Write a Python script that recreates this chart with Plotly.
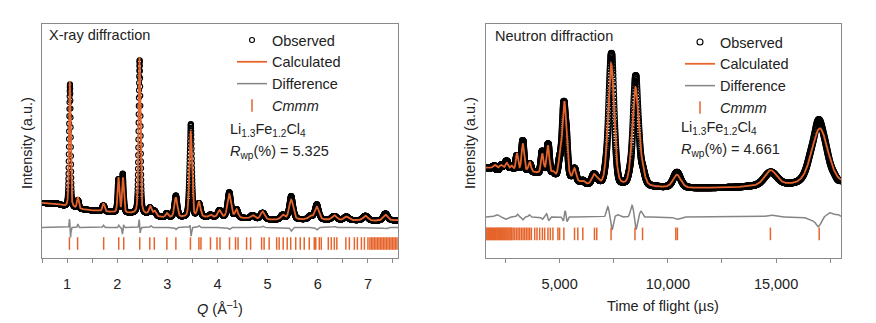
import numpy as np
import plotly.graph_objects as go

W, H = 876, 323
ORANGE = "#E6652C"
GRAY = "#858585"
FRAME = "#8a8a8a"
TXT = "#222222"
FONT = "Liberation Sans, Arial, Helvetica, sans-serif"
FS = 14.5

# ---------------- X-ray panel data ----------------
xr_bg_q = [0.5, 0.8, 0.95, 1.2, 1.4, 2.0, 2.6, 2.9, 3.0, 3.9, 4.5, 5.1, 5.7, 6.5, 7.2, 7.6]
xr_bg_y = [23.5, 23.2, 22.0, 21.0, 20.5, 19.3, 18.6, 17.3, 17.2, 17.4, 17.0, 16.3, 16.4, 16.2, 15.9, 16.1]

xr_peak_pos = [1.055, 1.215, 1.725, 2.025, 2.115, 2.445, 2.66, 2.745, 2.99, 3.17, 3.465, 3.63,
               3.86, 4.04, 4.235, 4.38, 4.70, 4.90, 5.30, 5.47, 5.85, 5.98, 6.33, 6.57, 6.95, 7.35]
xr_peak_amp = [54.0, 5.0, 3.5, 15.0, 15.0, 67.0, 3.5, 2.0, 1.8, 8.5, 37.0, 6.5,
               1.0, 3.0, 10.0, 3.5, 1.5, 3.3, 2.0, 8.5, 1.5, 5.5, 2.0, 1.5, 2.0, 2.5]
xr_peak_sig = [0.016, 0.018, 0.021, 0.018, 0.018, 0.019, 0.025, 0.025, 0.025, 0.03, 0.025, 0.03,
               0.026, 0.034, 0.036, 0.03, 0.038, 0.038, 0.038, 0.042, 0.038, 0.043, 0.043, 0.043, 0.048, 0.048]

xr_diff_base = 13.0
xr_diff_pos = [1.050, 1.068, 1.215, 1.725, 2.03, 2.105, 2.125, 2.44, 2.455, 2.67, 3.17, 3.455, 3.472,
               3.63, 4.235, 4.90, 5.47, 5.98, 6.33, 7.35]
xr_diff_amp = [4.0, -4.5, 1.5, 1.0, 1.0, -3.0, 1.5, 4.0, -3.0, 0.8, -0.8, 1.5, -4.0,
               0.8, -0.8, 0.6, -1.5, -1.0, 0.5, -0.5]
xr_diff_sig = [0.008, 0.008, 0.01, 0.012, 0.01, 0.01, 0.01, 0.009, 0.009, 0.015, 0.015, 0.01, 0.01,
               0.015, 0.02, 0.02, 0.02, 0.02, 0.02, 0.03]

xr_ticks = [1.047, 1.21, 1.73, 2.03, 2.13, 2.45, 2.65, 2.74, 2.99, 3.17, 3.46, 3.63, 3.67, 3.86,
            3.99, 4.05, 4.24, 4.36, 4.41, 4.58, 4.66, 4.88, 4.93, 5.03, 5.18, 5.23, 5.31, 5.39,
            5.46, 5.56, 5.65, 5.73, 5.83, 5.93, 5.96, 6.03, 6.07, 6.21, 6.27, 6.33, 6.38, 6.56,
            6.63, 6.73, 6.79, 6.87, 6.93, 7.0, 7.04, 7.07, 7.1, 7.13, 7.16, 7.19, 7.22, 7.25,
            7.28, 7.31, 7.34, 7.37, 7.4, 7.43, 7.46, 7.49, 7.52, 7.55, 7.58]
xr_tick_level = 6.2

# ---------------- Neutron panel data ----------------
nd_bg_t = [1600, 2500, 3500, 4500, 5500, 6300, 7000, 8000, 9500, 11000, 13000, 14000, 15500, 18000]
nd_bg_y = [38.5, 38.0, 37.0, 35.0, 33.0, 31.0, 30.5, 30.0, 30.0, 29.8, 30.0, 30.5, 31.0, 31.5]

nd_peak_pos = [2000, 2300, 2560, 2780, 3030, 3300, 3620, 4200, 4460, 4700, 4990, 5220, 5690, 6080,
               6580, 6750, 7380, 8500, 8800, 10420, 14750, 17020]
nd_peak_amp = [1.5, 1.5, 2.5, 1.5, 7.0, 11.5, 4.0, 8.5, 12.5, 1.5, 5.0, 33.0, 5.0, 1.0,
               4.0, 1.5, 52.5, 42.0, 6.0, 5.5, 6.5, 24.0]
nd_peak_sig = [70, 70, 60, 50, 48, 55, 55, 60, 65, 60, 60, 100, 70, 70,
               95, 85, 140, 145, 130, 180, 280, 380]

nd_diff_base = 17.5
nd_diff_pos = [2100, 2500, 3050, 3300, 3600, 4200, 4400, 4500, 5180, 5260, 5330, 7222, 7424, 7700,
               8344, 8528, 8758, 10420, 14750, 16600, 16950, 17500, 17850]
nd_diff_amp = [1.0, -1.0, 1.2, -1.2, 1.0, -1.0, 1.5, -1.5, -2.0, 3.5, -2.5, 4.5, -5.5, 1.0,
               5.0, -5.5, 2.5, -1.0, 0.8, -1.5, -4.0, 1.8, 1.0]
nd_diff_sig = [100, 80, 40, 40, 40, 40, 40, 40, 40, 40, 40, 60, 50, 100,
               70, 50, 60, 120, 200, 150, 120, 150, 100]

nd_ticks = [1610, 1650, 1690, 1725, 1760, 1800, 1840, 1875, 1910, 1950, 1990, 2030, 2070, 2110,
            2150, 2190, 2230, 2270, 2310, 2350, 2395, 2440, 2485, 2530, 2575, 2620, 2665, 2710,
            2755, 2790, 2852, 2930, 3008, 3082, 3160, 3238, 3312, 3390, 3468, 3542, 3620, 3698,
            3850, 3956, 4080, 4204, 4310, 4462, 4572, 4692, 4922, 5000, 5198, 5690, 5842, 6072,
            6610, 6716, 7378, 8482, 8832, 10368, 10442, 14738, 16992]
nd_tick_level = 10.3


def pv(x, c, s, eta=0.3):
    g = np.exp(-0.5 * ((x - c) / s) ** 2)
    gam = 1.1774 * s
    l = 1.0 / (1.0 + ((x - c) / gam) ** 2)
    return (1 - eta) * g + eta * l


def profile(x, bg_x, bg_y, pos, amp, sig):
    y = np.interp(x, bg_x, bg_y)
    for c, a, s in zip(pos, amp, sig):
        y = y + a * pv(x, c, s)
    return y


def diffcurve(x, base, pos, amp, sig):
    d = np.full_like(x, base)
    for c, a, s in zip(pos, amp, sig):
        d = d + a * np.exp(-0.5 * ((x - c) / s) ** 2)
    return d


q = np.arange(0.5, 7.6001, 0.002)
xr_calc = profile(q, xr_bg_q, xr_bg_y, xr_peak_pos, xr_peak_amp, xr_peak_sig)
xr_diff = diffcurve(q, xr_diff_base, xr_diff_pos, xr_diff_amp, xr_diff_sig)
xr_obs = xr_calc - (xr_diff - xr_diff_base)

t = np.geomspace(1600, 18000, 3000)
nd_calc = profile(t, nd_bg_t, nd_bg_y, nd_peak_pos, nd_peak_amp, nd_peak_sig)
nd_diff = diffcurve(t, nd_diff_base, nd_diff_pos, nd_diff_amp, nd_diff_sig)
nd_obs = nd_calc - (nd_diff - nd_diff_base)

fig = go.Figure()


def add_panel(x, obs, calc, diff, ticks, tick_level, xa, ya, legend, msize):
    fig.add_trace(go.Scatter(x=x, y=obs, mode="markers", name="Observed",
                             marker=dict(symbol="circle-open", size=msize, color="black",
                                         line=dict(width=1.1, color="black")),
                             xaxis=xa, yaxis=ya, legend=legend))
    fig.add_trace(go.Scatter(x=x, y=calc, mode="lines", name="Calculated",
                             line=dict(color=ORANGE, width=1.8),
                             xaxis=xa, yaxis=ya, legend=legend))
    fig.add_trace(go.Scatter(x=x, y=diff, mode="lines", name="Difference",
                             line=dict(color=GRAY, width=1.5),
                             xaxis=xa, yaxis=ya, legend=legend))
    fig.add_trace(go.Scatter(x=ticks, y=[tick_level] * len(ticks), mode="markers",
                             name="<i>Cmmm</i>",
                             marker=dict(symbol="line-ns", size=9, color=ORANGE,
                                         line=dict(width=1.5, color=ORANGE)),
                             xaxis=xa, yaxis=ya, legend=legend))


add_panel(q, xr_obs, xr_calc, xr_diff, xr_ticks, xr_tick_level, "x", "y", "legend", 5)
add_panel(t, nd_obs, nd_calc, nd_diff, nd_ticks, nd_tick_level, "x2", "y2", "legend2", 6)


def px(v):
    return v / W


def py(v):
    return 1 - v / H


ydom = [py(258), py(24)]
axis_common = dict(showline=True, mirror=True, linecolor=FRAME, linewidth=1, showgrid=False,
                   zeroline=False)
xaxis_common = dict(axis_common, ticks="outside", ticklen=4, tickwidth=1, tickcolor=FRAME,
                    ticklabelstandoff=9,
                    tickfont=dict(size=FS, color=TXT, family=FONT))
yaxis_common = dict(axis_common, showticklabels=False, ticks="", range=[0, 100])

fig.update_layout(
    width=W, height=H,
    margin=dict(l=0, r=0, t=0, b=0),
    paper_bgcolor="white", plot_bgcolor="white",
    font=dict(family=FONT, size=FS, color=TXT),
    xaxis=dict(xaxis_common, domain=[px(42), px(398)], range=[0.5, 7.6], dtick=1, tick0=0,
               anchor="y",
               minor=dict(dtick=0.5, ticklen=4, tickcolor=FRAME, ticks="outside", showgrid=False)),
    yaxis=dict(yaxis_common, domain=ydom, anchor="x"),
    xaxis2=dict(xaxis_common, domain=[px(486), px(841)], range=[1600, 18000], dtick=5000, tick0=0,
                tickformat=",d", anchor="y2",
                minor=dict(dtick=2500, ticklen=4, tickcolor=FRAME, ticks="outside", showgrid=False)),
    yaxis2=dict(yaxis_common, domain=ydom, anchor="x2"),
    legend=dict(x=px(232), y=py(24), xanchor="left", yanchor="top", bgcolor="rgba(0,0,0,0)",
                font=dict(size=FS, color=TXT, family=FONT), itemwidth=30, tracegroupgap=0),
    legend2=dict(x=px(680), y=py(26), xanchor="left", yanchor="top", bgcolor="rgba(0,0,0,0)",
                 font=dict(size=FS, color=TXT, family=FONT), itemwidth=30, tracegroupgap=0),
    showlegend=True,
)

annos = [
    dict(x=px(47), y=py(35), text="X-ray diffraction", xanchor="left", yanchor="middle"),
    dict(x=px(493), y=py(36), text="Neutron diffraction", xanchor="left", yanchor="middle"),
    dict(x=px(228), y=py(130), text="Li<sub>1.3</sub>Fe<sub>1.2</sub>Cl<sub>4</sub>",
         xanchor="left", yanchor="middle"),
    dict(x=px(228), y=py(152), text="<i>R</i><sub>wp</sub>(%) = 5.325", xanchor="left",
         yanchor="middle"),
    dict(x=px(679), y=py(128), text="Li<sub>1.3</sub>Fe<sub>1.2</sub>Cl<sub>4</sub>",
         xanchor="left", yanchor="middle"),
    dict(x=px(679), y=py(150), text="<i>R</i><sub>wp</sub>(%) = 4.661", xanchor="left",
         yanchor="middle"),
    dict(x=px(220), y=py(308), text="<i>Q</i> (Å<sup>–1</sup>)", xanchor="center",
         yanchor="middle"),
    dict(x=px(663), y=py(306), text="Time of flight (µs)", xanchor="center", yanchor="middle"),
    dict(x=px(27), y=py(143), text="Intensity (a.u.)", textangle=-90, xanchor="center",
         yanchor="middle"),
    dict(x=px(470), y=py(143), text="Intensity (a.u.)", textangle=-90, xanchor="center",
         yanchor="middle"),
]
for a in annos:
    a.update(xref="paper", yref="paper", showarrow=False,
             font=dict(size=FS, color=TXT, family=FONT))
fig.update_layout(annotations=annos)

fig.write_html("out.html")
